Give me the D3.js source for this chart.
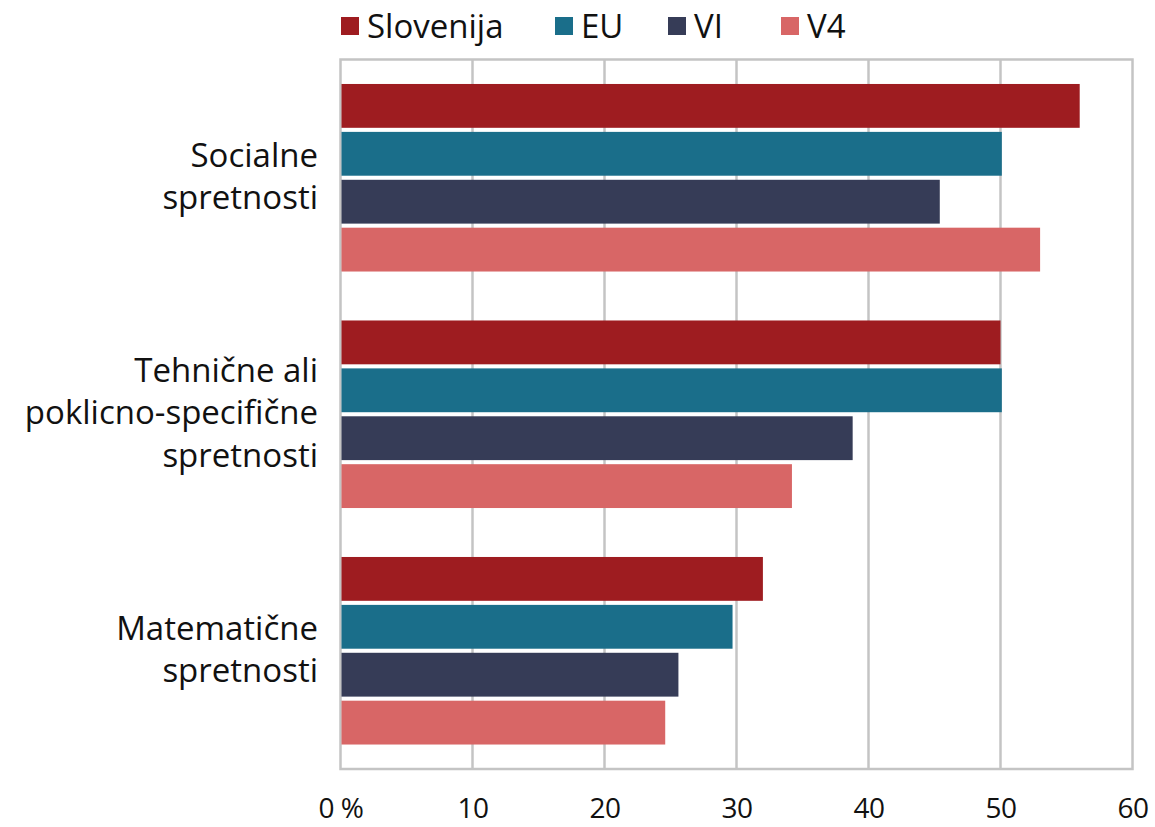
<!DOCTYPE html>
<html><head><meta charset="utf-8">
<script src="https://cdn.jsdelivr.net/npm/d3@7"></script>
<style>body{margin:0;background:#fff;}svg{display:block;font-family:"Open Sans","Noto Sans",sans-serif;}</style>
</head><body><svg id="c" width="1155" height="827"></svg>
<script>
const categories = [["Socialne","spretnosti"],["Tehnične ali","poklicno-specifične","spretnosti"],["Matematične","spretnosti"]];
const series = ["Slovenija","EU","VI","V4"];
const colors = ["#9e1c20","#1a6e8a","#363c57","#d86666"];
const values = {
  "Slovenija":[56.0,50.0,32.0],
  "EU":[50.1,50.1,29.7],
  "VI":[45.4,38.8,25.6],
  "V4":[53.0,34.2,24.6]
};
const ticks = [0,10,20,30,40,50,60];
const tickLabels = ["0 %","10","20","30","40","50","60"];

const svg = d3.select("#c");
const m = {left:340.5,right:1132.5,top:59.5,bottom:769};
const x = d3.scaleLinear().domain([0,60]).range([m.left,m.right]);
const y0 = d3.scaleBand().domain(d3.range(categories.length)).range([m.top,m.bottom]).paddingInner(0.207).paddingOuter(0.1035);
const y1 = d3.scaleBand().domain(series).range([0,y0.bandwidth()]).paddingInner(0.085);

// gridlines
svg.append("g").selectAll("line").data(ticks.slice(1,-1)).join("line")
  .attr("x1",d=>x(d)).attr("x2",d=>x(d)).attr("y1",m.top).attr("y2",m.bottom)
  .attr("stroke","#c4c4c4").attr("stroke-width",2.5);
// frame
svg.append("rect").attr("x",m.left).attr("y",m.top).attr("width",m.right-m.left).attr("height",m.bottom-m.top)
  .attr("fill","none").attr("stroke","#c4c4c4").attr("stroke-width",2.5);

// bars
const g = svg.append("g");
series.forEach((s,si)=>{
  g.selectAll(null).data(values[s]).join("rect")
    .attr("x",x(0)+1).attr("y",(d,i)=>y0(i)+y1(s))
    .attr("width",d=>x(d)-x(0)-1).attr("height",y1.bandwidth())
    .attr("fill",colors[si]);
});

// x axis labels
const xa = svg.append("g").attr("transform",`translate(0,${m.bottom})`)
  .call(d3.axisBottom(x).tickValues(ticks).tickFormat((d,i)=>tickLabels[i]).tickSize(0).tickPadding(0));
xa.select(".domain").remove();
xa.selectAll("text").attr("font-size",28).attr("fill","#111").attr("font-family","'Open Sans',sans-serif")
  .attr("y",49).attr("dy",0).style("letter-spacing","-0.5px");

// category labels
categories.forEach((lines,i)=>{
  const cy = y0(i)+y0.bandwidth()/2;
  const lh = 42.5;
  const t = svg.append("text").attr("text-anchor","end").attr("font-size",33).attr("fill","#111");
  lines.forEach((ln,j)=>{
    t.append("tspan").attr("x",318).attr("y",cy+(j-(lines.length-1)/2)*lh+10).text(ln);
  });
});

// legend
const legX = [341,555,668,781];
const lg = svg.append("g");
series.forEach((s,i)=>{
  lg.append("rect").attr("x",legX[i]).attr("y",17).attr("width",18).attr("height",18).attr("fill",colors[i]);
  lg.append("text").attr("x",legX[i]+26).attr("y",26).attr("dy","0.35em").attr("font-size",33).attr("fill","#111")
    .text(s);
});
</script></body></html>
